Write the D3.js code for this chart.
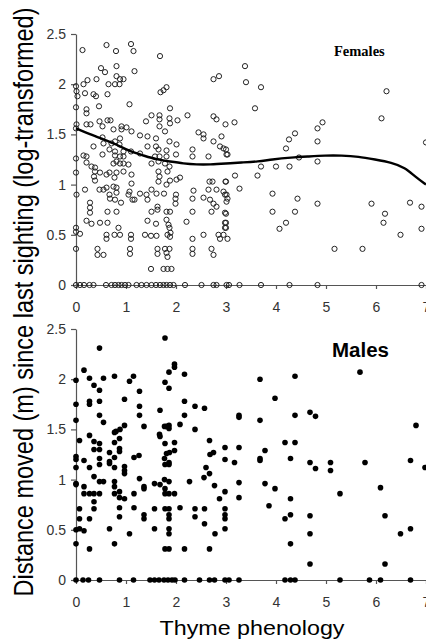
<!DOCTYPE html>
<html>
<head>
<meta charset="utf-8">
<script src="https://cdn.jsdelivr.net/npm/d3@7"></script>
<style>
  body { margin: 0; background: #fff; }
  svg { display: block; }
</style>
</head>
<body>
<div id="chart"></div>
<script>
// Thyme phenology vs distance moved, females (open) and males (filled)
const xTicks = [0, 1, 2, 3, 4, 5, 6, 7];
const yTicks = [0, 0.5, 1, 1.5, 2, 2.5];

const femalePts = [
  [0.13,2.34],[0.61,2.39],[0.8,2.33],[1.1,2.40],[1.15,2.33],[1.68,2.28],
  [0.5,2.16],[0.58,2.12],[0.81,2.18],[0.81,2.08],[0.95,2.05],[0.88,2.05],[1.17,2.13],[0.41,2.05],[0.23,2.04],[0.15,2.0],[0.65,2.0],[0.78,2.0],[0.87,2.0],[0,1.98],[2.75,2.05],[2.86,2.08],
  [1.81,1.97],[1.75,1.94],[1.69,1.92],[0.01,1.93],[0.03,1.88],[0.18,1.91],[0.35,1.9],[0.4,1.88],[0.63,1.9],
  [0,1.77],[1.07,1.8],[0.46,1.78],[0.21,1.75],[0.21,1.71],[1.88,1.76],
  [1.51,1.69],[1.67,1.69],[1.67,1.65],[1.87,1.66],[1.88,1.61],[2.03,1.64],[2.23,1.69],[2.75,1.68],[2.81,1.65],[2.99,1.6],
  [0.47,1.63],[0.63,1.64],[0.69,1.64],[0.01,1.6],[0.21,1.6],[0.29,1.6],[0.53,1.58],[0.75,1.55],[0.91,1.58],[0.91,1.55],[1.01,1.57],[1.11,1.53],[1.4,1.63],[1.67,1.58],[1.78,1.53],[0,1.56],
  [1.28,1.49],[1.43,1.48],[1.6,1.46],[2.45,1.52],[2.55,1.5],[2.55,1.46],[2.75,1.43],[2.91,1.48],
  [0.53,1.47],[0.71,1.41],[0.78,1.43],[0.88,1.46],[0.55,1.41],[0.87,1.4],[1.87,1.43],[2.01,1.4],[1.6,1.38],[0.35,1.38],[1.43,1.38],
  [0.67,1.35],[0.78,1.33],[0.95,1.33],[1.1,1.33],[1.65,1.35],[1.81,1.34],[2.33,1.35],[2.88,1.38],[2.95,1.36],[3.01,1.3],
  [0.15,1.29],[0.21,1.28],[0.53,1.3],[0.78,1.29],[0.88,1.28],[0.95,1.28],[1.28,1.31],[1.58,1.28],[1.67,1.28],[2.0,1.3],[1.81,1.28],[0,1.26],[2.33,1.28],[2.65,1.28],
  [0.21,1.22],[0.31,1.18],[0.38,1.17],[0.81,1.23],[0.88,1.21],[0.95,1.21],[1.05,1.2],[0.75,1.21],[1.51,1.21],[1.65,1.23],[1.78,1.21],[1.87,1.18],
  [0,1.12],[0.38,1.13],[0.48,1.12],[0.67,1.12],[0.81,1.12],[0.95,1.13],[1.11,1.1],[1.65,1.13],[1.83,1.13],[0.36,1.08],[0.61,1.1],[0.38,1.04],[0.77,1.07],[1.67,1.08],[2.08,1.07],[1.88,1.04],[2.01,1.05],[1.65,1.03],[1.11,1.01],[2.67,1.03],[2.99,1.03],[2.73,1.03],[1.81,1.0],
  [0.47,0.95],[0.55,0.95],[0.61,0.97],[0.75,0.98],[0.81,0.97],[1.07,0.93],[0.18,0.95],[0.01,0.9],[0.67,0.9],[0.81,0.92],[1.05,0.9],[1.28,0.91],[1.41,0.9],[1.51,0.95],[1.61,0.91],[1.76,0.91],[2.0,0.9],[2.35,0.94],[2.65,0.95],[2.81,0.95],[2.95,0.93],
  [1.13,0.85],[1.17,0.85],[0.68,0.86],[0.78,0.85],[0.9,0.82],[1.43,0.85],[1.99,0.86],[2.55,0.87],[2.68,0.85],[2.98,0.9],[3.01,0.83],[2.33,0.86],
  [0.28,0.82],[0.28,0.77],[0.28,0.72],[0.63,0.73],[0.81,0.73],[1.63,0.78],[1.63,0.75],[1.51,0.73],[1.81,0.73],[1.88,0.73],[1.99,0.81],[2.33,0.73],[2.75,0.81],[2.81,0.78],[2.71,0.73],[2.98,0.72],
  [0.21,0.64],[0.31,0.61],[0.48,0.62],[0.63,0.62],[1.43,0.64],[1.6,0.61],[1.81,0.65],[1.85,0.6],[1.87,0.57],[1.89,0.52],[2.21,0.63],[2.98,0.62],[2.98,0.57],
  [0,0.57],[0,0.53],[0.08,0.51],[0.61,0.5],[0.61,0.46],[0.77,0.5],[0.85,0.57],[0.88,0.5],[1.1,0.5],[1.1,0.46],[1.38,0.5],[1.5,0.49],[1.61,0.49],[1.83,0.5],[1.88,0.48],[2.33,0.46],[2.55,0.5],[2.85,0.5],[2.95,0.5],[2.88,0.46],
  [0,0.36],[0.43,0.36],[0.43,0.3],[0.55,0.3],[1.08,0.36],[1.08,0.31],[1.63,0.36],[1.63,0.31],[1.78,0.36],[1.81,0.32],[1.83,0.28],[1.87,0.36],[2.33,0.36],[2.33,0.31],[2.71,0.36],[2.75,0.3],
  [1.5,0.16],[1.75,0.16],[1.83,0.16],[1.91,0.16],
  [3.38,2.18],[3.4,2.02],[3.7,1.97],[3.58,1.76],[3.17,1.62],[3.0,1.35],[3.03,1.3],[3.7,1.18],[4.0,1.18],[4.27,1.18],[4.46,1.27],[4.2,1.36],[4.26,1.45],[4.38,1.51],[4.83,1.56],[4.93,1.62],[4.83,1.43],[4.83,1.23],
  [3.18,1.09],[3.63,1.09],[3.27,0.96],[3.0,1.03],[3.01,0.9],[3.03,0.86],[3.93,0.91],[4.43,0.86],[4.83,0.81],[3.93,0.73],[4.38,0.73],[4.2,0.62],[4.07,0.56],[3.0,0.71],[3.0,0.62],[3.0,0.57],[3.03,0.46],
  [5.17,0.36],[5.73,0.36],[5.91,0.81],[6.11,1.66],[6.21,1.93],[6.18,0.71],[6.15,0.62],[6.49,0.5],[6.68,0.82],[6.91,0.78],[6.91,0.56],[7.0,1.42]
];
const femaleZeroX = [0,0.08,0.16,0.27,0.35,0.6,0.71,0.78,0.85,0.91,0.98,1.05,1.21,1.31,1.41,1.51,1.6,1.68,1.75,1.81,1.88,1.95,2.18,2.51,2.75,2.81,3.01,3.06,3.27,3.7,4.27,4.83,6.91];

// smoothed trend through the female data
const trendX = [0, 0.28, 0.55, 0.81, 1.08, 1.35, 1.61, 1.88, 2.15, 2.41, 2.68, 3.0, 3.3, 3.65, 3.91, 4.31, 4.65, 4.98, 5.31, 5.65, 5.98, 6.31, 6.58, 6.78, 7.0];
const trendY = [1.56, 1.50, 1.45, 1.40, 1.33, 1.29, 1.25, 1.23, 1.21, 1.20, 1.20, 1.21, 1.22, 1.23, 1.25, 1.27, 1.28, 1.29, 1.29, 1.28, 1.25, 1.22, 1.17, 1.08, 1.0];

const malePts = [
  [1.78,2.41],[0.47,2.31],[1.97,2.15],[1.97,2.12],[0.16,2.09],[1.86,2.07],[2.17,2.05],[0,1.99],[0.27,2.01],[0.55,2.01],[0.77,2.03],[1.15,2.03],[1.07,1.98],[0.36,1.94],[0.47,1.89],[1.78,1.97],[1.86,1.91],[1.27,1.88],[0.97,1.8],[0,1.75],[0.27,1.78],[0.27,1.75],[0.47,1.78],[2.17,1.78],[2.38,1.73],[2.57,1.71],[1.27,1.73],[1.27,1.64],[1.68,1.69],[2.17,1.64],[0.47,1.64],[0.55,1.57],[0,1.59],[0.97,1.54],[1.36,1.53],[0.88,1.5],[0.8,1.48],[0.77,1.47],[1.81,1.53],[1.86,1.51],[1.86,1.54],[1.77,1.53],[2.08,1.55],[2.38,1.5],
  [0.27,1.44],[0.07,1.39],[0.36,1.38],[0.47,1.36],[0.36,1.3],[0.47,1.3],[0.77,1.37],[0.87,1.41],[0.87,1.31],[0.87,1.28],[0.67,1.27],[1.67,1.45],[1.68,1.43],[1.78,1.36],[1.97,1.37],[1.97,1.29],[1.87,1.27],[1.81,1.26],[2.67,1.39],[2.68,1.25],[2.98,1.32],[2.75,1.27],[2.98,1.2],[0.77,1.22],[1.26,1.24],[1.16,1.22],[0,1.23],[0,1.2],[0,1.12],[0.16,1.19],[0.47,1.21],[0.47,1.15],[0.67,1.18],[0.67,1.16],[0.77,1.12],[0.97,1.13],[0.97,1.09],[0.97,1.06],[1.77,1.21],[1.78,1.15],[1.86,1.17],[1.86,1.15],[0.27,1.12],[0.36,1.03],[1.27,1.01],[2.56,1.02],[2.67,1.06],[2.6,1.12],
  [0,0.96],[0,0.95],[0.16,0.93],[0.16,0.86],[0.27,0.86],[0.36,0.86],[0.47,0.86],[0.47,0.98],[0.55,0.98],[0.77,0.98],[0.77,0.93],[0.77,0.86],[0.87,0.88],[0.87,0.82],[0.97,0.81],[1.16,0.86],[1.36,0.93],[1.36,0.91],[1.57,0.96],[1.68,0.95],[1.77,1.0],[1.86,0.98],[1.78,0.91],[1.78,0.86],[1.86,0.86],[1.97,0.86],[2.27,0.98],[2.77,0.94],[2.98,0.88],[2.87,0.81],
  [0.07,0.71],[0.36,0.78],[0.36,0.71],[0.07,0.61],[0.27,0.61],[0.87,0.72],[0.87,0.63],[1.16,0.72],[1.36,0.65],[1.36,0.61],[1.57,0.71],[1.78,0.71],[1.86,0.71],[1.86,0.65],[1.86,0.61],[2.08,0.72],[2.38,0.71],[2.38,0.63],[2.57,0.71],[2.98,0.71],[2.98,0.65],[2.98,0.61],[2.57,0.56],
  [0,0.5],[0.07,0.51],[0.16,0.49],[0.67,0.51],[1.57,0.51],[1.86,0.51],[1.86,0.46],[2.98,0.51],[1.07,0.46],[2.78,0.46],[0,0.36],[0.77,0.36],[0.27,0.31],[1.78,0.31],[1.86,0.31],[2.17,0.31],[2.67,0.31],
  [3.68,2.0],[4.38,2.03],[5.68,2.07],[3.98,1.81],[3.26,1.64],[3.26,1.62],[3.68,1.59],[4.38,1.64],[4.68,1.67],[4.79,1.63],[6.8,1.54],[3.26,1.32],[3.78,1.29],[4.18,1.37],[4.38,1.37],[3.68,1.21],[3.68,1.19],[3.17,1.17],[4.29,1.21],[4.68,1.17],[4.79,1.11],[5.09,1.17],[5.09,1.09],[5.78,1.17],[6.69,1.19],[6.98,1.12],
  [3.26,0.97],[3.78,0.96],[3.98,0.91],[3.26,0.82],[3.86,0.74],[4.29,0.81],[4.18,0.61],[4.29,0.65],[5.28,0.86],[6.09,0.92],[6.18,0.64],[4.68,0.64],[4.68,0.46],[4.29,0.36],[4.68,0.16],[6.18,0.16],[6.49,0.46],[6.69,0.51]
];
const maleZeroX = [0,0.14,0.25,0.47,0.87,1.15,1.48,1.57,1.66,1.76,1.84,1.92,1.98,2.17,2.47,2.67,2.77,2.98,3.06,3.26,4.18,4.29,4.38,5.28,5.87,6.09,6.69];

const width = 426, height = 640;
const sans = "'Liberation Sans', Arial, sans-serif";

const svg = d3.select("#chart").append("svg")
  .attr("width", width)
  .attr("height", height)
  .style("background", "#fff");

const x = d3.scaleLinear().domain([0, 7]).range([76, 426]);
const panels = [
  { name: "Females", pts: femalePts.concat(femaleZeroX.map(v => [v, 0])), y: d3.scaleLinear().domain([0, 2.5]).range([285, 34]) },
  { name: "Males", pts: malePts.concat(maleZeroX.map(v => [v, 0])), y: d3.scaleLinear().domain([0, 2.5]).range([580, 329]) }
];

function styleAxis(g) {
  g.selectAll("path, line").attr("stroke", "#555").attr("stroke-width", 1.2);
  g.selectAll("text").attr("fill", "#333").style("font-family", sans).style("font-size", "14px");
}

panels.forEach((p, i) => {
  const y = p.y;

  svg.append("g")
    .attr("transform", `translate(0,${y(0)})`)
    .call(d3.axisBottom(x).tickValues(xTicks).tickSize(4).tickSizeOuter(0).tickPadding(13).tickFormat(d3.format("d")))
    .call(styleAxis);

  svg.append("g")
    .attr("transform", `translate(${x(0)},0)`)
    .call(d3.axisLeft(y).tickValues(yTicks).tickSize(5).tickSizeOuter(0).tickPadding(5).tickFormat(d3.format("")))
    .call(styleAxis);

  if (i === 0) {
    svg.append("g").selectAll("circle")
      .data(p.pts)
      .enter().append("circle")
      .attr("cx", d => x(d[0]))
      .attr("cy", d => y(d[1]))
      .attr("r", 2.6)
      .attr("fill", "none")
      .attr("stroke", "#222")
      .attr("stroke-width", 1);

    const line = d3.line()
      .x(d => x(d[0]))
      .y(d => y(d[1]))
      .curve(d3.curveBasis);
    svg.append("path")
      .datum(trendX.map((v, k) => [v, trendY[k]]))
      .attr("d", line)
      .attr("fill", "none")
      .attr("stroke", "#000")
      .attr("stroke-width", 2.4);

    svg.append("text")
      .attr("x", 334).attr("y", 56)
      .style("font-family", "'Liberation Serif', 'Times New Roman', serif")
      .style("font-weight", "bold")
      .style("font-size", "14.5px")
      .text(p.name);
  } else {
    svg.append("g").selectAll("circle")
      .data(p.pts)
      .enter().append("circle")
      .attr("cx", d => x(d[0]))
      .attr("cy", d => y(d[1]))
      .attr("r", 2.8)
      .attr("fill", "#000");

    svg.append("text")
      .attr("x", 332).attr("y", 357)
      .style("font-family", sans)
      .style("font-weight", "bold")
      .style("font-size", "19.5px")
      .attr("textLength", 57)
      .attr("lengthAdjust", "spacingAndGlyphs")
      .text(p.name);
  }
});

// axis titles
svg.append("text")
  .attr("transform", "translate(33,302) rotate(-90)")
  .attr("text-anchor", "middle")
  .style("font-family", sans)
  .style("font-size", "27px")
  .attr("textLength", 589)
  .attr("lengthAdjust", "spacingAndGlyphs")
  .text("Distance moved (m) since last sighting (log-transformed)");

svg.append("text")
  .attr("x", 252).attr("y", 635)
  .attr("text-anchor", "middle")
  .style("font-family", sans)
  .style("font-size", "21px")
  .attr("textLength", 185)
  .attr("lengthAdjust", "spacingAndGlyphs")
  .text("Thyme phenology");
</script>
</body>
</html>
